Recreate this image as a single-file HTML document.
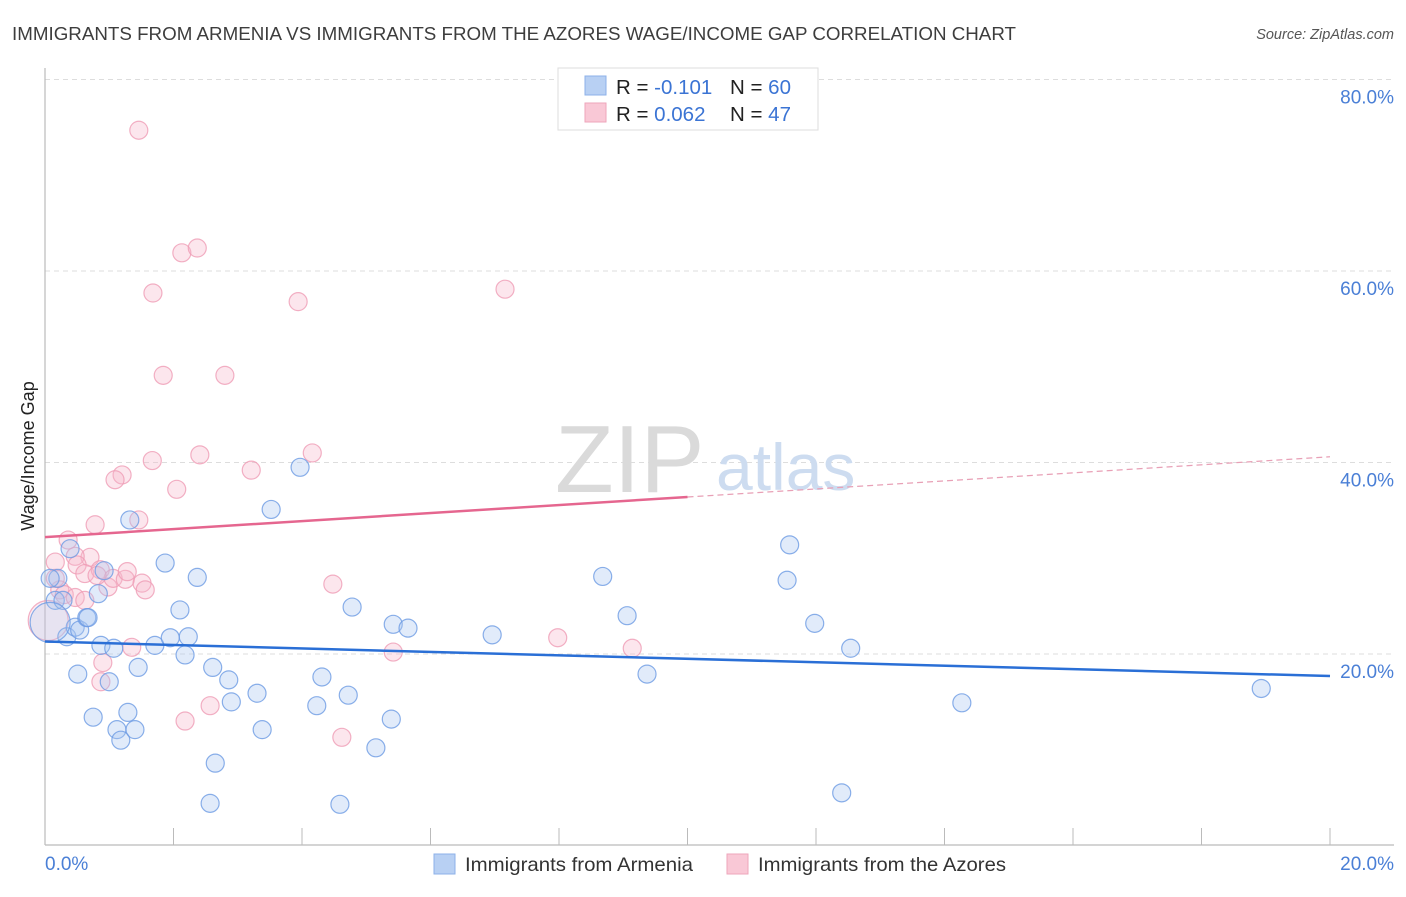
<!DOCTYPE html>
<html><head><meta charset="utf-8"><style>
body{margin:0;background:#fff;font-family:"Liberation Sans",sans-serif;}
svg text{font-family:"Liberation Sans",sans-serif;}
</style></head><body>
<svg id="c" width="1406" height="892" xmlns="http://www.w3.org/2000/svg">
<text x="12" y="40" font-size="18.6" fill="#3d3d3d" textLength="1004" lengthAdjust="spacingAndGlyphs">IMMIGRANTS FROM ARMENIA VS IMMIGRANTS FROM THE AZORES WAGE/INCOME GAP CORRELATION CHART</text>
<text x="1394" y="39" font-size="14.5" fill="#555" font-style="italic" text-anchor="end">Source: ZipAtlas.com</text>
<g id="grid"></g>
<text x="555" y="492" font-size="96" fill="#dadada" font-family="Liberation Serif">ZIP</text>
<text x="716" y="490" font-size="66" fill="#cddcf0">atlas</text>
<line x1="45" y1="68" x2="45" y2="845" stroke="#bbb" stroke-width="1.2"/>
<line x1="45" y1="845" x2="1394" y2="845" stroke="#bbb" stroke-width="1.2"/>
<g id="ticks"></g>
<text transform="translate(34,456) rotate(-90)" font-size="18" fill="#222" text-anchor="middle">Wage/Income Gap</text>
<text x="45" y="870" font-size="19" fill="#4a7fd6">0.0%</text>
<text x="1394" y="870" font-size="19" fill="#4a7fd6" text-anchor="end">20.0%</text>
<g id="pts"></g>
<g id="lines"></g>
<g>
<rect x="558" y="68" width="260" height="62" fill="#fff" stroke="#ddd"/>
<rect x="585" y="76" width="21" height="19" fill="#b8d0f3" stroke="#8db1e8"/>
<rect x="585" y="103" width="21" height="19" fill="#f9c8d6" stroke="#eea6bb"/>
<text x="616" y="94" font-size="20.5" fill="#222">R = <tspan fill="#3b74d4">-0.101</tspan></text>
<text x="730" y="94" font-size="20.5" fill="#222">N = <tspan fill="#3b74d4">60</tspan></text>
<text x="616" y="121" font-size="20.5" fill="#222">R = <tspan fill="#3b74d4"> 0.062</tspan></text>
<text x="730" y="121" font-size="20.5" fill="#222">N = <tspan fill="#3b74d4"> 47</tspan></text>
</g>
<g>
<rect x="434" y="854" width="21" height="20" fill="#b8d0f3" stroke="#8db1e8"/>
<text x="465" y="871" font-size="19.5" fill="#333" textLength="228" lengthAdjust="spacingAndGlyphs">Immigrants from Armenia</text>
<rect x="727" y="854" width="21" height="20" fill="#f9c8d6" stroke="#eea6bb"/>
<text x="758" y="871" font-size="19.5" fill="#333" textLength="248" lengthAdjust="spacingAndGlyphs">Immigrants from the Azores</text>
</g>
</svg>
<script>
const yTicks=[20,40,60,80];
const yTickLabels=["20.0%","40.0%","60.0%","80.0%"];
const xTicks=[2,4,6,8,10,12,14,16,18,20];
const armeniaX=[0.16,0.20,0.28,0.39,0.34,0.47,0.54,0.51,0.65,0.67,0.75,0.83,0.87,0.92,1.00,1.07,1.12,1.18,1.29,1.40,1.32,1.45,1.71,1.87,1.95,2.10,2.18,2.23,2.37,2.57,2.61,2.65,2.86,2.90,3.30,3.38,3.52,3.97,4.23,4.31,4.59,4.72,4.78,5.15,5.39,5.42,5.65,6.96,8.68,9.06,9.37,11.55,11.59,11.98,12.40,12.54,14.27,18.93,0.08,0.08];
const armeniaY=[25.6,27.9,25.6,31.0,21.8,22.8,22.5,17.9,23.8,23.8,13.4,26.3,20.9,28.7,17.1,20.6,12.1,11.0,13.9,12.1,34.0,18.6,20.9,29.5,21.7,24.6,19.9,21.8,28.0,4.4,18.6,8.6,17.3,15.0,15.9,12.1,35.1,39.5,14.6,17.6,4.3,15.7,24.9,10.2,13.2,23.1,22.7,22.0,28.1,24.0,17.9,27.7,31.4,23.2,5.5,20.6,14.9,16.4,23.3,27.9];
const azoresX=[1.46,2.13,2.37,1.68,3.94,7.16,1.84,2.80,2.41,1.67,4.16,1.20,1.09,3.21,2.05,1.46,0.78,0.36,0.16,0.70,0.47,0.50,0.62,0.23,0.30,0.47,0.62,0.86,0.98,1.06,1.25,1.28,1.51,1.56,4.48,1.35,0.90,0.87,2.18,2.57,4.62,5.42,7.98,9.14,0.05,0.16,0.81];
const azoresY=[74.7,61.9,62.4,57.7,56.8,58.1,49.1,49.1,40.8,40.2,41.0,38.7,38.2,39.2,37.2,34.0,33.5,31.9,29.6,30.1,30.2,29.3,28.4,26.7,26.2,25.9,25.6,28.8,27.0,27.9,27.8,28.6,27.4,26.7,27.3,20.7,19.1,17.1,13.0,14.6,11.3,20.2,21.7,20.6,23.5,27.9,28.2];
const armeniaTrend=[21.3,17.7];
const azoresTrend=[32.2,40.6];
const sx=v=>45+v*64.25, sy=v=>845.5-v*9.575;
const NS="http://www.w3.org/2000/svg";
function mk(tag,attrs,parent){const e=document.createElementNS(NS,tag);for(const k in attrs)e.setAttribute(k,attrs[k]);parent.appendChild(e);return e;}
const grid=document.getElementById('grid');
yTicks.forEach((t,i)=>{
  const l=mk('line',{x1:45,x2:1394,y1:sy(t),y2:sy(t),stroke:'#ddd','stroke-dasharray':'5,4'},grid);
  
  
  const tx=mk('text',{x:1394,y:sy(t)+24,'font-size':19,fill:'#4a7fd6','text-anchor':'end'},grid);
  tx.textContent=yTickLabels[i];
  
  
});
const ticks=document.getElementById('ticks');
xTicks.forEach(t=>{
  const l=mk('line',{x1:sx(t),x2:sx(t),y1:828,y2:845,stroke:'#bbb'},ticks);
  
  
});
const pts=document.getElementById('pts');
function dots(X,Y,fill,stroke,name,bigIdx){
  X.forEach((x,i)=>{
    const r=(i===bigIdx)?20:9;
    const c=mk('circle',{cx:sx(x),cy:sy(Y[i]),r:r,fill:fill,'fill-opacity':(i===bigIdx)?0.25:0.35,stroke:stroke,'stroke-opacity':0.8,'stroke-width':1.2},pts);
    
    
  });
}
dots(azoresX,azoresY,'#f7b8cb','#ef9cb5','azores-point',44);
dots(armeniaX,armeniaY,'#a9c6f0','#6d9be3','armenia-point',58);
const lines=document.getElementById('lines');
const y0=armeniaTrend[0],y1=armeniaTrend[1];
let l=mk('line',{x1:sx(0),y1:sy(y0),x2:sx(20),y2:sy(y1),stroke:'#2a6fd6','stroke-width':2.5},lines);


const p0=azoresTrend[0],p1=azoresTrend[1],xm=10;
const pm=p0+(p1-p0)*xm/20;
l=mk('line',{x1:sx(0),y1:sy(p0),x2:sx(xm),y2:sy(pm),stroke:'#e5668f','stroke-width':2.5},lines);


l=mk('line',{x1:sx(xm),y1:sy(pm),x2:sx(20),y2:sy(p1),stroke:'#e8a0b6','stroke-width':1.2,'stroke-dasharray':'6,4'},lines);


</script>
</body></html>
